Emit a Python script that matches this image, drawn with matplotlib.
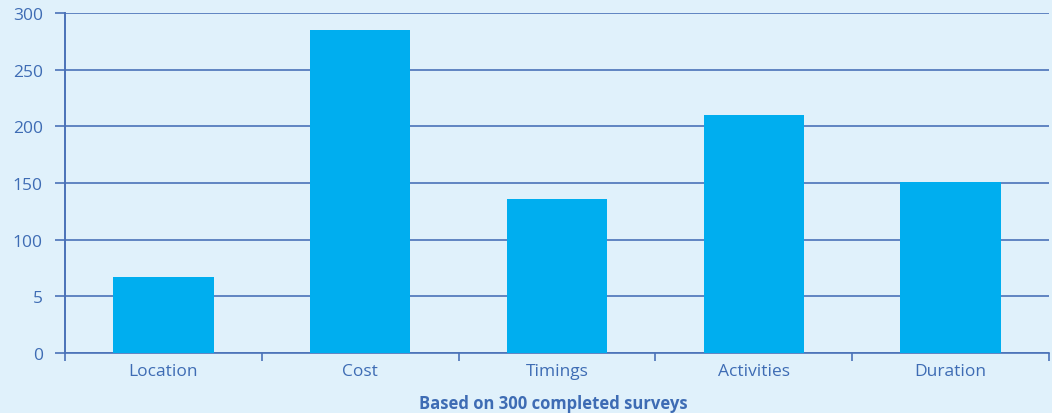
import matplotlib
matplotlib.use("Agg")
import matplotlib.pyplot as plt
import numpy as np

categories = ["Location", "Cost", "Timings", "Activities", "Duration"]
values = [67, 285, 136, 210, 151]
ytick_values = [0, 50, 100, 150, 200, 250, 300]
ytick_labels = ["0", "5", "100", "150", "200", "250", "300"]
caption = "Based on 300 completed surveys"

bg = "#e0f1fb"
line_c = "#4a72b8"
text_c = "#3e6cb4"
bar_c = "#00aeef"

plt.rcParams['font.family'] = ['Open Sans', 'DejaVu Sans']

fig = plt.figure(figsize=(10.52, 4.14), dpi=100, facecolor=bg)
ax = fig.add_axes([65/1052, 60/414, (1049-65)/1052, (354-14)/414])
ax.set_facecolor(bg)

x = np.arange(len(categories))
ax.bar(x, values, width=0.51, color=bar_c, zorder=3)
ax.set_xlim(-0.5, len(categories) - 0.5)
ax.set_ylim(0, 300)

ax.set_yticks(ytick_values)
ax.set_yticklabels(ytick_labels)
ax.yaxis.grid(True, color=line_c, linewidth=1.2, zorder=1)
ax.set_axisbelow(True)

# x ticks at category boundaries, labels at centers
ax.set_xticks(np.arange(-0.5, len(categories), 1.0))
ax.set_xticklabels([])
ax.set_xticks(x, minor=True)
ax.set_xticklabels(categories, minor=True)
ax.tick_params(axis='x', which='major', length=6, width=1.2, color=line_c, direction='out')
ax.tick_params(axis='x', which='minor', length=0, labelsize=12.5, labelcolor=text_c, pad=7)
ax.tick_params(axis='y', length=7, width=1.2, color=line_c, labelsize=12.5, labelcolor=text_c, pad=9)

for s in ['top', 'right']:
    ax.spines[s].set_visible(False)
ax.spines['left'].set_color(line_c)
ax.spines['left'].set_linewidth(1.4)
ax.spines['left'].set_bounds(0, 300)
ax.spines['bottom'].set_color(line_c)
ax.spines['bottom'].set_linewidth(1.2)

fig.text(553/1052, 1 - 404/414, caption, ha='center', va='center',
         fontsize=12, fontweight='bold', color=text_c)

fig.savefig("out.png", dpi=100, facecolor=bg)
